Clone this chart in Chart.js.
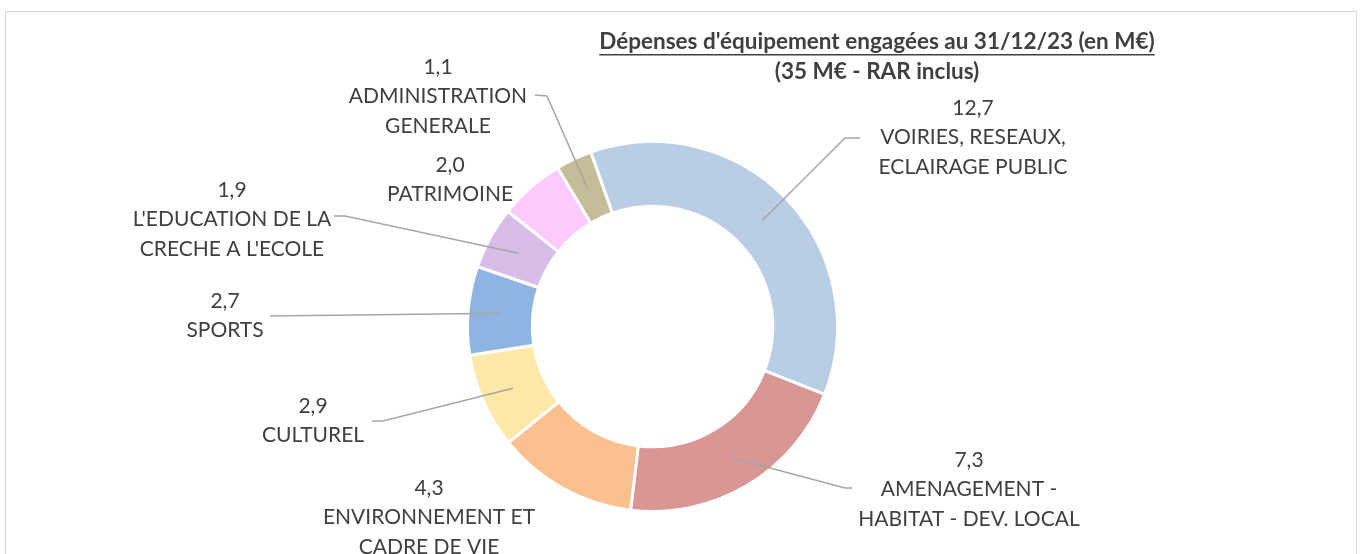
<!DOCTYPE html>
<html>
<head>
<meta charset="utf-8">
<script src="https://cdn.jsdelivr.net/npm/chart.js@4/dist/chart.umd.min.js"></script>
<style>
  html, body { margin: 0; padding: 0; background: #fff; }
  #wrap { width: 1360px; height: 554px; }
</style>
</head>
<body>
<div id="wrap"><canvas id="myChart" width="1360" height="554"></canvas></div>
<script>
// data (M€)
var categories = [
  ['VOIRIES, RESEAUX,', 'ECLAIRAGE PUBLIC'],
  ['AMENAGEMENT -', 'HABITAT - DEV. LOCAL'],
  ['ENVIRONNEMENT ET', 'CADRE DE VIE'],
  ['CULTUREL'],
  ['SPORTS'],
  ["L'EDUCATION DE LA", "CRECHE A L'ECOLE"],
  ['PATRIMOINE'],
  ['ADMINISTRATION', 'GENERALE']
];
var values = [12.7, 7.3, 4.3, 2.9, 2.7, 1.9, 2.0, 1.1];
var valueLabels = ['12,7', '7,3', '4,3', '2,9', '2,7', '1,9', '2,0', '1,1'];
var titleLines = ["Dépenses d'équipement engagées au 31/12/23 (en M€)", "(35 M€ - RAR inclus)"];

var sliceColors = ['#b9cde5', '#d99694', '#fac090', '#ffe8a8', '#8eb4e3', '#d7bde8', '#fdcafd', '#c4bd97'];

// where each label block sits, and the elbow of its leader line (null = no line)
var labelPos = [
  { x: 973, y: 108, line: [[860, 138], [845, 138]] },
  { x: 969, y: 460, line: [[852, 488], [845, 488]] },
  { x: 429, y: 488, line: null },
  { x: 313, y: 406, line: [[372, 421], [383, 421]] },
  { x: 225, y: 301, line: [[270, 316]] },
  { x: 232, y: 190, line: [[334, 216], [345, 216]] },
  { x: 450, y: 165, line: null },
  { x: 438, y: 67,  line: [[535, 95], [547, 96]] }
];

var LINE_H = 29.5;
var FONT = 'Lato, "Open Sans", sans-serif';

var labelsPlugin = {
  id: 'excelLabels',
  beforeDraw: function(chart) {
    var c = chart.ctx;
    c.save();
    c.strokeStyle = '#d9d9d9';
    c.lineWidth = 1;
    c.strokeRect(5.5, 11.5, 1351, 700);
    c.restore();
  },
  afterDraw: function(chart) {
    var c = chart.ctx;
    var arcs = chart.getDatasetMeta(0).data;
    c.save();

    // leader lines
    c.strokeStyle = '#a6a6a6';
    c.lineWidth = 1.5;
    for (var i = 0; i < arcs.length; i++) {
      var lp = labelPos[i];
      if (!lp.line) continue;
      var p = arcs[i].getCenterPoint();
      c.beginPath();
      c.moveTo(lp.line[0][0], lp.line[0][1]);
      for (var k = 1; k < lp.line.length; k++) c.lineTo(lp.line[k][0], lp.line[k][1]);
      c.lineTo(p.x, p.y);
      c.stroke();
    }

    // category labels
    c.fillStyle = '#404040';
    c.textAlign = 'center';
    c.textBaseline = 'middle';
    c.font = '21px ' + FONT;
    for (var j = 0; j < categories.length; j++) {
      var lines = [valueLabels[j]].concat(categories[j]);
      for (var n = 0; n < lines.length; n++) {
        c.fillText(lines[n], labelPos[j].x, labelPos[j].y + n * LINE_H);
      }
    }

    // title
    c.font = 'bold 22.5px ' + FONT;
    c.fillText(titleLines[0], 877, 42);
    var w = c.measureText(titleLines[0]).width;
    c.fillRect(877 - w / 2, 54, w, 1.5);
    c.fillText(titleLines[1], 877, 72);
    c.restore();
  }
};

var ctx = document.getElementById('myChart').getContext('2d');

var data = {
  labels: categories.map(function(l) { return l.join(' '); }),
  datasets: [{
    data: values,
    backgroundColor: sliceColors,
    borderColor: '#ffffff',
    borderWidth: 3,
    hoverOffset: 0
  }]
};

var options = {
  responsive: false,
  animation: false,
  cutout: '65%',
  rotation: -19.5,
  layout: { padding: { left: 466, right: 521, top: 140, bottom: 41 } },
  plugins: {
    legend: { display: false },
    tooltip: { enabled: false }
  }
};

var myDoughnutChart = new Chart(ctx, {
  type: 'doughnut',
  data: data,
  options: options,
  plugins: [labelsPlugin]
});
</script>
</body>
</html>
